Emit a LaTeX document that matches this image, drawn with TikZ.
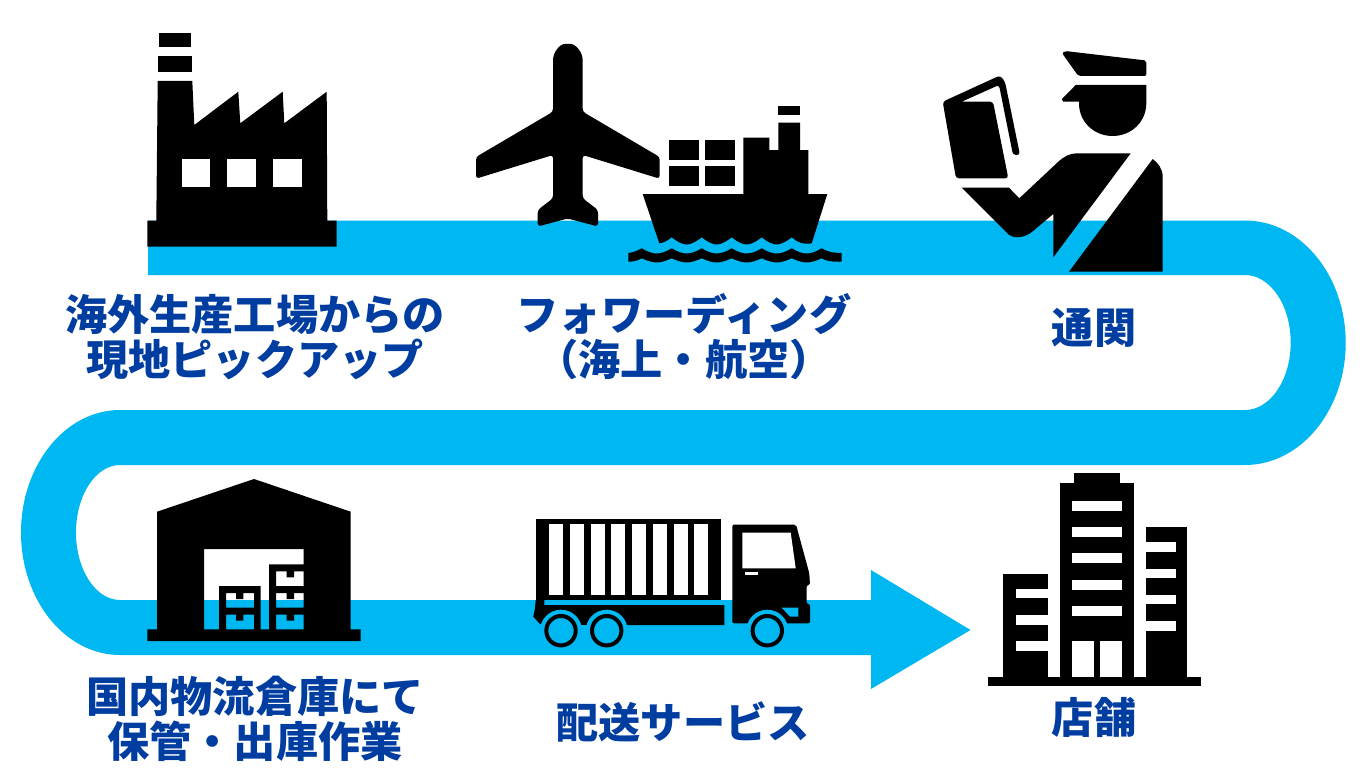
\documentclass[tikz,border=0pt]{standalone}
\usepackage{fontspec}
\newfontfamily\jpfont{Noto Sans CJK JP}[UprightFont=* Black]
\definecolor{flowblue}{HTML}{00B8F1}
\definecolor{labelblue}{HTML}{003DA0}
\tikzset{
  ico/.style={fill=black},
  gap/.style={fill=white},
  wet/.style={fill=flowblue},
  tyre/.style={draw=black, line width=4pt, fill=flowblue},
  lbl/.style={font=\jpfont\fontsize{42.2}{45}\selectfont, text=labelblue, align=center, inner sep=0pt},
}
\begin{document}
\begin{tikzpicture}[x=1pt, y=-1pt]
  \useasboundingbox[fill=white] (0,0) rectangle (1366,768);

  % ribbon
  \fill[wet] (148,220.5) -- (1245,220.5) arc[start angle=-90, end angle=90, x radius=100.7, y radius=122.25]
    -- (120,465) arc[start angle=-90, end angle=-270, x radius=44, y radius=67.5]
    -- (871,600) -- (871,570) -- (970.5,630) -- (871,689) -- (871,655)
    -- (120,655) arc[start angle=90, end angle=270, x radius=99, y radius=122.5]
    -- (1245,410) arc[start angle=90, end angle=-90, x radius=45.7, y radius=67.5]
    -- (148,275) -- cycle;

  % factory
  \fill[ico] (159,33.3) rectangle (191.3,46.7);
  \fill[ico] (158,56) rectangle (192.3,71.7);
  \fill[ico] (157.7,81) -- (192.3,81) -- (194.3,125) -- (238.3,91.7) -- (240.3,123.3) -- (282.7,91.7)
    -- (284.3,123.3) -- (326.7,91.7) -- (327.3,220.7) -- (336.7,220.7) -- (336.7,246.7)
    -- (147.3,246.7) -- (147.3,220.7) -- (156.3,220.7) -- cycle;
  \foreach \wx/\wy in {182/210.3,227.3/256.3,273.3/302}
    \fill[gap] (\wx,159) rectangle (\wy,187.3);

  % plane
  \fill[ico, rounded corners=3pt] (553,63.3) .. controls (553,52) and (560,44) .. (567.7,44)
    .. controls (575.5,44) and (582.7,52) .. (582.7,63.3)
    -- (582.7,111.7) -- (659.7,157) -- (659.7,178.7) -- (582.7,155) -- (582.7,198.3) -- (598,210)
    -- (598,226.5) -- (567.7,218.5) -- (537.7,226.5) -- (537.7,210) -- (553,198.3) -- (553,155)
    -- (476,178.7) -- (476,157) -- (553,111.7) -- cycle;

  % ship
  \foreach \cx/\cy in {668.7/140,705/140,668.7/166,705/166}
    \fill[ico] (\cx,\cy) rectangle +(30.2,19.6);
  \fill[ico] (778.3,106) rectangle (800,114.7);
  \fill[ico] (642.7,194) -- (743.3,194) -- (743.3,137.7) -- (769.3,137.7) -- (769.3,150) -- (778.3,150)
    -- (778.3,122.7) -- (800,122.7) -- (800,150) -- (808.3,150) -- (808.3,194) -- (827.3,194) -- (811.7,243.3)
    .. controls (803,245) and (797,242) .. (791.7,237.3)
    \foreach \wx in {791.7,761.7,731.7,701.7} {
      .. controls (\wx-6,242) and (\wx-11,244.5) .. (\wx-15,244.5)
      .. controls (\wx-19,244.5) and (\wx-24,242) .. (\wx-30,237.3) }
    .. controls (667,241) and (663,243) .. (659.3,243.3) -- cycle;
  \fill[ico] (628.3,253) .. controls (633,252.5) and (637,251) .. (641.7,248.3)
    \foreach \wx in {641.7,671.7,701.7,731.7,761.7,791.7} {
      .. controls (\wx+6,252) and (\wx+11,253.5) .. (\wx+15,253.5)
      .. controls (\wx+19,253.5) and (\wx+24,252) .. (\wx+30,248.3) }
    .. controls (826,251) and (832,253) .. (841.7,253) -- (841.7,261.7)
    .. controls (832,262) and (826,261) .. (821.7,258.3)
    \foreach \wx in {821.7,791.7,761.7,731.7,701.7,671.7} {
      .. controls (\wx-6,261) and (\wx-11,262.5) .. (\wx-15,262.5)
      .. controls (\wx-19,262.5) and (\wx-24,261) .. (\wx-30,258.3) }
    .. controls (637,261) and (633,261.7) .. (628.3,261.7) -- cycle;

  % officer
  \fill[ico, rounded corners=2pt] (1062,53) -- (1065,51) -- (1146.3,60.5) -- (1146.3,76) -- (1078.3,76) -- cycle;
  \fill[ico] (1075.7,85) -- (1146.3,85) -- (1146.3,103.3) .. controls (1146.3,122) and (1131,136) .. (1112.7,136)
    .. controls (1094,136) and (1079,122) .. (1079,103.3) -- (1079,101.7) -- (1063.3,101.7) -- (1061.7,99.3) -- cycle;
  \fill[ico, rounded corners=3pt] (942.7,101.7) -- (1000,75.5) -- (1005,81.7) -- (1020,155) -- (1013,155)
    -- (999,85) [sharp corners] -- (961.7,101.7) [rounded corners=3pt] -- (993,101.7) -- (1008.3,178.3) -- (956,178.3) -- cycle;
  \fill[ico] (961.7,187.7) -- (1009,187.7) -- (1019.3,198.3) -- (1058.3,161.7)
    .. controls (1064,156.5) and (1070,153.3) .. (1076.7,153.3) -- (1130.7,153.3) -- (1053.3,257.3) -- (1053.3,214)
    -- (1033,231) .. controls (1025,238) and (1013,240) .. (1006.7,232.7) -- cycle;
  \fill[ico] (1152.7,159) .. controls (1158,163) and (1162.7,169) .. (1162.7,176.7) -- (1162.7,271.7) -- (1069,271.7) -- cycle;

  % warehouse
  \fill[ico, even odd rule] (254,479) -- (350.7,511.7) -- (350.7,629.3) -- (360.7,629.3) -- (360.7,641)
    -- (147.3,641) -- (147.3,629.3) -- (157,629.3) -- (157,511.7) -- cycle
    (204,549) rectangle (303.7,629.3)
    (219,586) rectangle (260.7,629.3)
    (269,564.3) rectangle (303.7,629.3)
    \foreach \hx/\hy/\hw/\hn in {226/593/28/10,226/614.7/28/10,276/571.3/27.7/10.7,276/593/27.7/10.7,276/614.7/27.7/10.7} {
      (\hx,\hy) -- ++(\hn,0) -- ++(0,6) -- ++(7.3,0) -- ++(0,-6) -- (\hx+\hw,\hy) -- ++(0,14.7) -- ++(-\hw,0) -- cycle };

  % truck
  \fill[ico] (535.7,519) rectangle (721.3,600);
  \foreach \sl in {0,...,7}
    \fill[gap] (549.3+\sl*20.7,524.3) rectangle +(14,70.7);
  \fill[ico] (535.7,600) -- (544.3,600) -- (544.3,605) -- (724.3,605) -- (724.3,625) -- (585,625)
    -- (540,624) -- (533.3,616.7) -- (535,608.3) -- cycle;
  \fill[ico, rounded corners=2pt] (732.3,524.5) -- (796,524.5) -- (809.3,573.3) -- (810,585) -- (806.7,585)
    -- (806.7,604) -- (810,604) -- (810,623.3) -- (732.3,623.3) -- cycle;
  \fill[gap] (742.3,532.7) -- (790.7,532.7) -- (795.7,568.3) -- (742.3,568.3) -- cycle;
  \fill[gap] (745,572) rectangle (757.7,575.3);
  \fill[wet] (781.7,607.7) -- (798.3,607.7) -- (798.3,616.7) -- (790,616.7) -- cycle;
  \foreach \wc in {561,606.7,767.3} {
    \fill[wet] (\wc,630.7) circle[radius=21];
    \draw[tyre] (\wc,630.7) circle[radius=14.7];
  }

  % buildings
  \fill[ico] (988.3,677.3) rectangle (1201.3,686.3);
  \fill[ico] (1074,473.3) rectangle (1120,483.3);
  \fill[ico] (1060,483.3) rectangle (1134,678);
  \fill[ico] (1002.7,574.3) rectangle (1048.3,678);
  \fill[ico] (1145.7,527.3) rectangle (1187,678);
  \foreach \wy in {500.7,527,553.3,579.7,606}
    \fill[gap] (1072,\wy) rectangle +(49.7,9.9);
  \foreach \wy in {588.7,615,641}
    \fill[gap] (1016,\wy) rectangle +(32.3,9.7);
  \foreach \wy in {542.3,568.7,594.7,621}
    \fill[gap] (1145.7,\wy) rectangle +(30,9.7);
  \fill[gap] (1072,640.7) rectangle (1094,677.3);
  \fill[gap] (1099.7,640.7) rectangle (1121.7,677.3);

  % labels
  \node[lbl] (pickup) at (255,337) {海外生産工場からの\\現地ピックアップ};
  \node[lbl] (forward) at (684,337) {フォワーディング\\（海上・航空）};
  \node[lbl] (customs) at (1094,328) {通関};
  \node[lbl] (storage) at (255,719) {国内物流倉庫にて\\保管・出庫作業};
  \node[lbl] (delivery) at (683,721.5) {配送サービス};
  \node[lbl] (shop) at (1094,717) {店舗};
\end{tikzpicture}
\end{document}
